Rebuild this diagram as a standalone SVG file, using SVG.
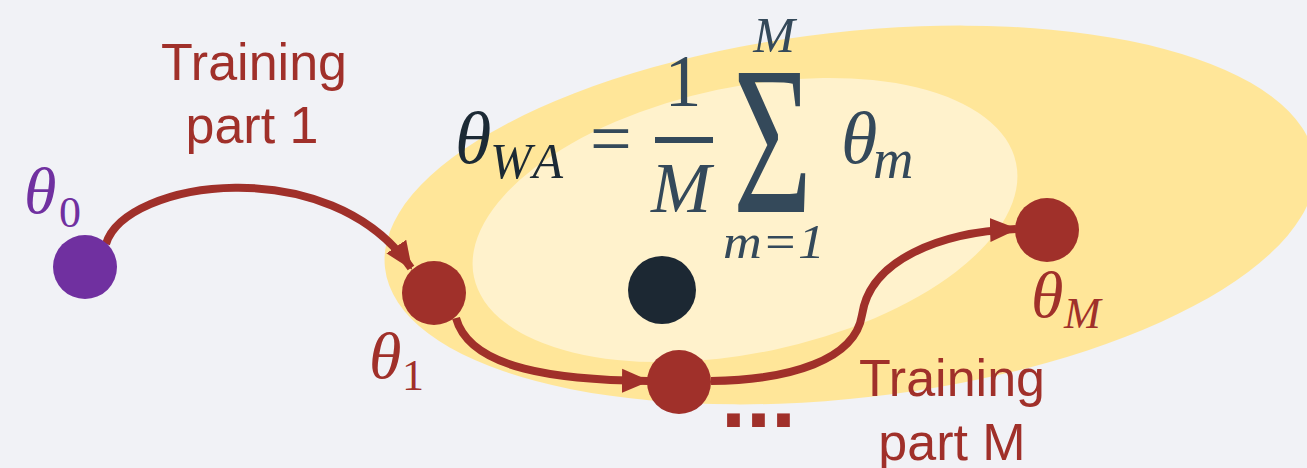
<svg xmlns="http://www.w3.org/2000/svg" width="1307" height="468" viewBox="0 0 1307 468">
<style>
.bg{fill:#F1F2F6}
.outer{fill:#FFE699}
.inner{fill:#FFF2CC}
.red{fill:#A0302A}
.conn{fill:none;stroke:#A0302A;stroke-width:8}
.lbl{font-family:"Liberation Sans",Arial,sans-serif;font-size:52px;fill:#A0302A;text-anchor:middle}
.m{font-family:"Liberation Serif","Times New Roman",serif;font-style:italic}
.up{font-family:"Liberation Serif","Times New Roman",serif}
.f{fill:#34495A}
</style>
<defs>
<marker id="ah" markerUnits="userSpaceOnUse" markerWidth="30" markerHeight="30" viewBox="0 0 30 30" refX="26" refY="15" orient="auto">
<path d="M0,3 L28,15 L0,27 z" fill="#A0302A"/>
</marker>
</defs>
<rect class="bg" x="0" y="0" width="1307" height="468"/>
<g id="region-outer"><ellipse class="outer" cx="850" cy="215" rx="468" ry="183" transform="rotate(-6.5 850 215)"/></g>
<g id="region-inner"><ellipse class="inner" cx="745" cy="220" rx="277" ry="133" transform="rotate(-11.9 745 220)"/></g>

<g id="formula">
<text class="m" x="455" y="163" font-size="74" fill="#1C2A35">θ</text>
<text class="m" x="490" y="178" font-size="50" fill="#1C2A35" textLength="73" lengthAdjust="spacing">WA</text>
<text class="up f" x="590" y="163" font-size="74">=</text>
<text class="up f" x="683" y="106" font-size="74" text-anchor="middle">1</text>
<rect class="f" x="655" y="137" width="58" height="6"/>
<text class="m f" x="681" y="212" font-size="72" text-anchor="middle">M</text>
<text class="up f" x="733" y="212" font-size="212" textLength="79" lengthAdjust="spacingAndGlyphs">Σ</text>
<text class="m f" x="774" y="52" font-size="50" text-anchor="middle">M</text>
<text class="m f" x="774" y="258" font-size="49" text-anchor="middle" textLength="102" lengthAdjust="spacingAndGlyphs">m=1</text>
<text class="m f" x="841" y="163" font-size="74">θ</text>
<text class="m f" x="873" y="178" font-size="56">m</text>
</g>

<g id="connectors">
<path class="conn" d="M106,244 C125,180 330,150 411,268" marker-end="url(#ah)"/>
<path class="conn" d="M456,318 C470,370 560,380 648,381" marker-end="url(#ah)"/>
<path class="conn" d="M711,381 C790,380 855,360 862,315 C870,260 940,232 1016,229" marker-end="url(#ah)"/>
</g>

<g id="node-theta0">
<circle cx="85" cy="267" r="32" fill="#7030A0"/>
<text class="m" x="24" y="213" font-size="66" fill="#7030A0">θ</text>
<text class="up" x="59" y="227" font-size="44" fill="#7030A0">0</text>
</g>
<g id="node-theta1">
<circle class="red" cx="434" cy="293" r="32"/>
<text class="m red" x="369" y="378" font-size="66">θ</text>
<text class="up red" x="402" y="390" font-size="44">1</text>
</g>
<g id="node-mid">
<circle class="red" cx="679" cy="382" r="32"/>
<text class="red" x="721" y="427" font-size="90" font-weight="bold" font-family="Liberation Sans, Arial, sans-serif">...</text>
</g>
<g id="node-avg">
<circle cx="662" cy="290" r="34" fill="#1C2833"/>
</g>
<g id="node-thetaM">
<circle class="red" cx="1047" cy="230" r="32"/>
<text class="m red" x="1031" y="317" font-size="66">θ</text>
<text class="m red" x="1064" y="328" font-size="44">M</text>
</g>

<g id="label-part1">
<text class="lbl" x="254" y="80">Training</text>
<text class="lbl" x="252" y="143">part 1</text>
</g>
<g id="label-partM">
<text class="lbl" x="952" y="396">Training</text>
<text class="lbl" x="952" y="460">part M</text>
</g>
</svg>
